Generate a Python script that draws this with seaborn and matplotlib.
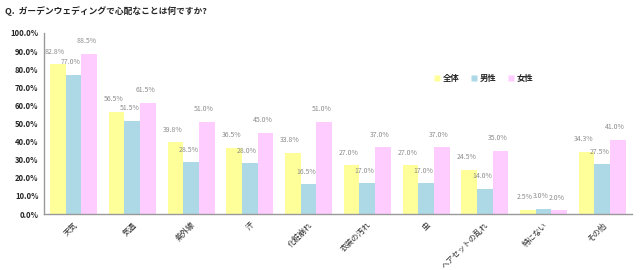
import matplotlib
matplotlib.use("Agg")
import matplotlib.pyplot as plt
import seaborn as sns
import pandas as pd
from matplotlib.lines import Line2D

categories = ["天気", "気温", "紫外線", "汗", "化粧崩れ", "衣装の汚れ", "虫", "ヘアセットの乱れ", "特にない", "その他"]
series_names = ["全体", "男性", "女性"]
total = [82.8, 56.5, 39.8, 36.5, 33.8, 27.0, 27.0, 24.5, 2.5, 34.3]
male = [77.0, 51.5, 28.5, 28.0, 16.5, 17.0, 17.0, 14.0, 3.0, 27.5]
female = [88.5, 61.5, 51.0, 45.0, 51.0, 37.0, 37.0, 35.0, 2.0, 41.0]
y_ticks = [0, 10, 20, 30, 40, 50, 60, 70, 80, 90, 100]
title = "Q.  ガーデンウェディングで心配なことは何ですか?"

colors = ["#FFFF99", "#ADD8E6", "#FFCCFF"]

sns.set_theme(style="white")
plt.rcParams['font.family'] = ['Noto Sans CJK JP', 'DejaVu Sans']

rows = []
for name, vals in zip(series_names, [total, male, female]):
    for c, v in zip(categories, vals):
        rows.append({"category": c, "series": name, "value": v})
df = pd.DataFrame(rows)

fig = plt.figure(figsize=(6.4, 2.7), dpi=100)
ax = fig.add_axes([0.069, 0.207, 0.918, 0.671])

sns.barplot(data=df, x="category", y="value", hue="series", order=categories,
            hue_order=series_names, palette=colors, width=0.8, saturation=1,
            ax=ax, legend=False, edgecolor="none")

for cont in ax.containers:
    for patch, v in zip(cont.patches, cont.datavalues):
        ax.annotate(f"{v:.1f}%", (patch.get_x() + patch.get_width() / 2, patch.get_height()),
                    xytext=(-2, 9), textcoords="offset points", ha="center", va="center",
                    fontsize=5, color="#8c8c8c")

ax.set_ylim(0, 100)
ax.set_xlim(-0.5, len(categories) - 0.5)
ax.set_yticks(y_ticks)
ax.set_yticklabels([f"{t:.1f}%" for t in y_ticks], fontsize=5.5, fontweight="bold")
ax.set_xticks(range(len(categories)))
ax.set_xticklabels(categories, rotation=45, ha="right", rotation_mode="anchor", fontsize=5.6)
ax.tick_params(axis="both", length=0)
ax.tick_params(axis="x", pad=5)
ax.tick_params(axis="y", pad=4)
ax.set_xlabel("")
ax.set_ylabel("")
for s in ["top", "right"]:
    ax.spines[s].set_visible(False)
for s in ["left", "bottom"]:
    ax.spines[s].set_color("#999999")
    ax.spines[s].set_linewidth(1)

handles = [Line2D([0], [0], marker="s", linestyle="none", markersize=5,
                  markerfacecolor=c, markeredgecolor="none") for c in colors]
fig.legend(handles, series_names, loc="center left", bbox_to_anchor=(0.678, 0.711),
           ncol=3, frameon=False, handlelength=0.8, handletextpad=0.3, columnspacing=1.3,
           borderaxespad=0, borderpad=0, prop={"weight": "bold", "size": 6})

fig.text(0.008, 0.96, title, fontsize=6.3, fontweight="bold", va="center", ha="left")

fig.savefig("out.png", dpi=100)
